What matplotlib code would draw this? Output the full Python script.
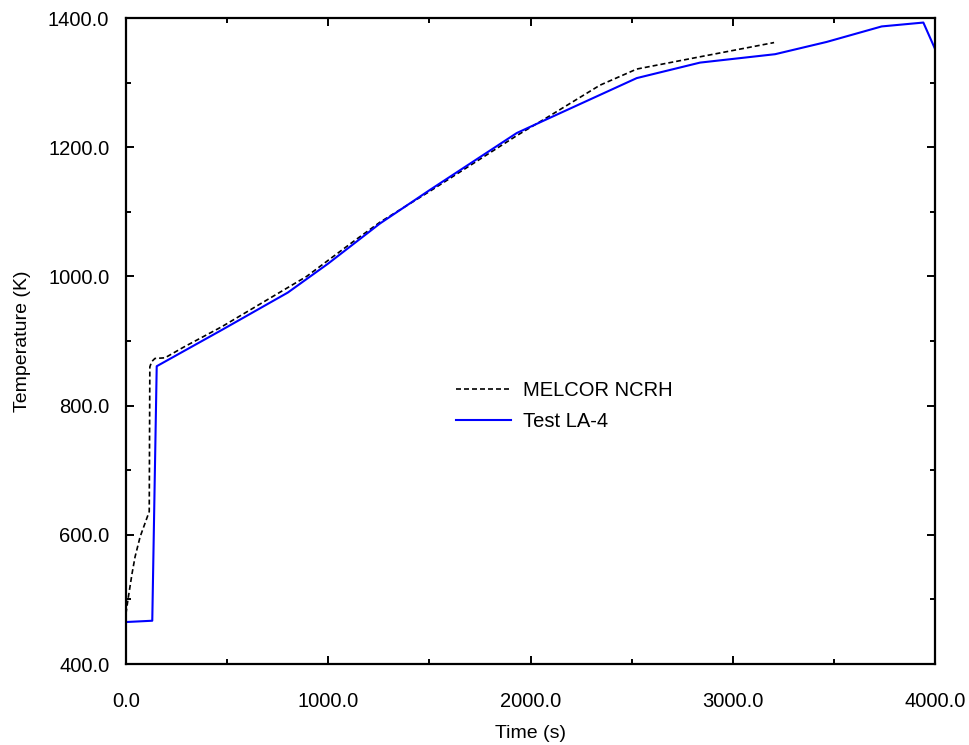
import numpy as np
import matplotlib
matplotlib.use("Agg")
import matplotlib.pyplot as plt
from matplotlib.ticker import MultipleLocator, FormatStrFormatter

plt.rcParams['font.family'] = ['Liberation Sans', 'DejaVu Sans']

# ─── DATA ──────────────────────────────────────────────────────────────────
melcor_t = [0, 10, 30, 45, 70, 115, 118, 127, 143, 193, 282, 473, 893, 1124,
            1256, 1503, 1932, 2071, 2343, 2525, 2838, 3204]
melcor_T = [478, 500, 540, 566, 597, 636, 860, 868, 873, 874, 890, 922, 1000, 1054,
            1084, 1132, 1218, 1244, 1296, 1321, 1340, 1362]

test_t = [0, 130, 152, 473, 800, 1000, 1256, 1503, 1932, 2071, 2525, 2838,
          3209, 3464, 3736, 3942, 4000]
test_T = [465, 467, 861, 917, 975, 1020, 1082, 1134, 1222, 1242, 1307, 1331,
          1344, 1363, 1387, 1393, 1352]

# ─── PLOT ──────────────────────────────────────────────────────────────────
fig = plt.figure(figsize=(9.69, 7.45), dpi=100)
ax = fig.add_axes([0.130, 0.1087, 0.835, 0.8671])

ax.plot(melcor_t, melcor_T, color='black', linestyle='--', linewidth=1.2,
        dashes=(3, 1.8), label='MELCOR NCRH')
ax.plot(test_t, test_T, color='#0000ff', linewidth=1.5, label='Test LA-4')

ax.set_xlim(0, 4000)
ax.set_ylim(400, 1400)
ax.xaxis.set_major_locator(MultipleLocator(1000))
ax.xaxis.set_minor_locator(MultipleLocator(500))
ax.yaxis.set_major_locator(MultipleLocator(200))
ax.yaxis.set_minor_locator(MultipleLocator(100))
ax.xaxis.set_major_formatter(FormatStrFormatter('%.1f'))
ax.yaxis.set_major_formatter(FormatStrFormatter('%.1f'))

for s in ax.spines.values():
    s.set_linewidth(1.6)
ax.tick_params(which='both', direction='in', top=True, right=True,
               labelsize=14.5, width=1.4)
ax.tick_params(which='major', length=6)
ax.tick_params(which='minor', length=3.5)
ax.tick_params(axis='x', which='major', pad=20)
ax.tick_params(axis='y', which='major', pad=12)

ax.set_xlabel('Time (s)', fontsize=14, labelpad=10)
ax.set_ylabel('Temperature (K)', fontsize=14, labelpad=12)

ax.legend(loc='center left', bbox_to_anchor=(0.408, 0.399), frameon=False,
          fontsize=14.5, handlelength=2.75, handletextpad=0.55, labelspacing=0.6,
          borderpad=0, borderaxespad=0)

plt.savefig('out.png', dpi=100)
